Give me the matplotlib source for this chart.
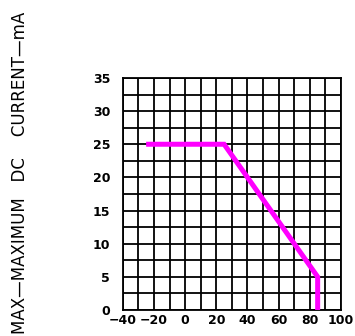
import matplotlib
matplotlib.use("Agg")
import matplotlib.pyplot as plt
import numpy as np

temp_c = [-25, 25, 85, 85]
current_ma = [25, 25, 5, 0]
x_ticks = [-40, -20, 0, 20, 40, 60, 80, 100]
y_ticks = [0, 5, 10, 15, 20, 25, 30, 35]
ylabel = "MAX\u2014MAXIMUM   DC    CURRENT\u2014mA"

fig = plt.figure(figsize=(3.55, 3.36), dpi=100)
ax = fig.add_axes([0.3457, 0.0774, 0.615, 0.6906])
ax.set_xlim(-40, 100)
ax.set_ylim(0, 35)
ax.set_xticks(x_ticks)
ax.set_yticks(y_ticks)
ax.set_xticks(np.arange(-40, 101, 10), minor=True)
ax.set_yticks(np.arange(0, 35.1, 2.5), minor=True)
ax.grid(True, which='both', color='black', linewidth=1.3)
ax.tick_params(which='both', length=0)
ax.tick_params(axis='x', pad=3)
ax.tick_params(axis='y', pad=9)
for lab in ax.get_xticklabels() + ax.get_yticklabels():
    lab.set_fontweight('bold')
    lab.set_fontsize(9)
for s in ax.spines.values():
    s.set_linewidth(1.3)
ax.plot(temp_c, current_ma, color='#ff00ff', linewidth=3.6, solid_joinstyle='miter', solid_capstyle='butt', zorder=5)

fig.text(20/355, 1 - 12/336, ylabel, rotation=90, ha='center', va='top', fontsize=12)
fig.savefig("out.png", dpi=100)
